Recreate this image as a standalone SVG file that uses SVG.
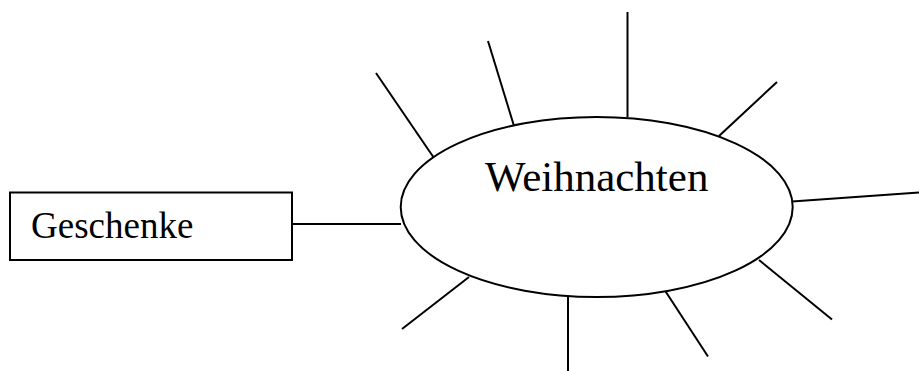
<svg xmlns="http://www.w3.org/2000/svg" width="919" height="371" viewBox="0 0 919 371">
<style>
.shape{fill:#fff;stroke:#000;stroke-width:2}
.ln{stroke:#000;stroke-width:2;fill:none}
.t{font-family:"Liberation Serif","Times New Roman",serif;fill:#000}
</style>
<rect width="919" height="371" fill="#fff"/>
<g id="connectors">
<line class="ln" x1="292" y1="224" x2="401" y2="224"/>
<line class="ln" x1="376" y1="73" x2="434" y2="158"/>
<line class="ln" x1="488" y1="41" x2="514" y2="126"/>
<line class="ln" x1="627.5" y1="12" x2="627.5" y2="117"/>
<line class="ln" x1="777" y1="82" x2="719" y2="136"/>
<line class="ln" x1="792" y1="201.5" x2="919" y2="192.5"/>
<line class="ln" x1="759" y1="260" x2="832" y2="319.5"/>
<line class="ln" x1="663" y1="287.5" x2="708" y2="356.5"/>
<line class="ln" x1="568" y1="297" x2="568" y2="371"/>
<line class="ln" x1="469" y1="277" x2="402" y2="329"/>
</g>
<g id="weihnachten">
<ellipse class="shape" cx="596.7" cy="207" rx="196" ry="90"/>
<text class="t" x="485" y="191" font-size="43">Weihnachten</text>
</g>
<g id="geschenke">
<rect class="shape" x="10" y="192.5" width="282" height="67.5"/>
<text class="t" x="31" y="237.5" font-size="37">Geschenke</text>
</g>
</svg>
